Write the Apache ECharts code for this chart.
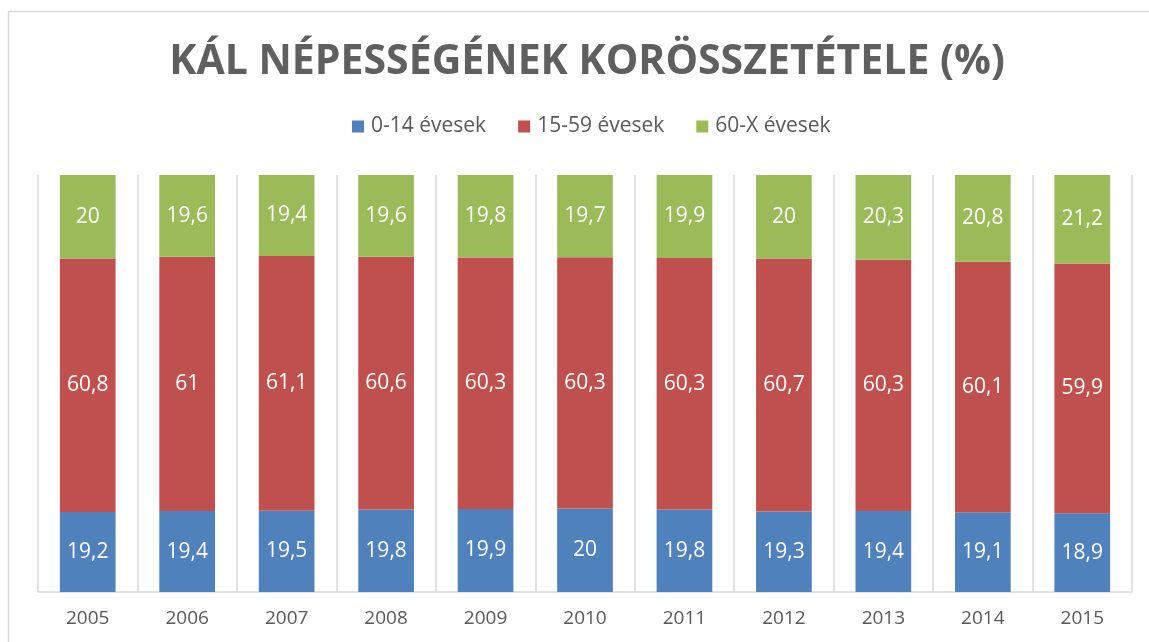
<!DOCTYPE html>
<html lang="hu">
<head>
<meta charset="UTF-8">
<title>Kál népességének korösszetétele</title>
<script src="https://cdn.jsdelivr.net/npm/echarts@6/dist/echarts.min.js"></script>
<style>
  html, body { margin: 0; padding: 0; background: #fff; }
  #chart { width: 1149px; height: 642px; }
</style>
</head>
<body>
<div id="chart"></div>
<script>
// évek és korcsoportok (%)
const years = ['2005', '2006', '2007', '2008', '2009', '2010', '2011', '2012', '2013', '2014', '2015'];
const young = [19.2, 19.4, 19.5, 19.8, 19.9, 20, 19.8, 19.3, 19.4, 19.1, 18.9];
const middle = [60.8, 61, 61.1, 60.6, 60.3, 60.3, 60.3, 60.7, 60.3, 60.1, 59.9];
const old = [20, 19.6, 19.4, 19.6, 19.8, 19.7, 19.9, 20, 20.3, 20.8, 21.2];
const seriesNames = ['0-14 évesek', '15-59 évesek', '60-X évesek'];
const colors = ['#4F81BD', '#C0504D', '#9BBB59'];

const fontFam = '"Open Sans", "Noto Sans", sans-serif';

function makeSeries(name, data, color) {
    return {
        name: name,
        type: 'bar',
        stack: 'total',
        barWidth: '56%',
        data: data,
        itemStyle: { color: color },
        label: {
            show: true,
            position: 'inside',
            color: '#fff',
            fontSize: 21,
            fontFamily: fontFam,
            formatter: p => String(p.value).replace('.', ',')
        }
    };
}

const chart = echarts.init(document.getElementById('chart'));
chart.setOption({
    animation: false,
    color: colors,
    title: {
        text: 'KÁL NÉPESSÉGÉNEK KORÖSSZETÉTELE (%)',
        left: 582,
        textAlign: 'center',
        top: 37,
        textStyle: {
            fontFamily: fontFam,
            fontWeight: 'bold',
            fontSize: 41,
            color: '#5f5f5f'
        }
    },
    legend: {
        top: 111,
        left: 347,
        itemWidth: 12,
        itemHeight: 12,
        itemGap: 32,
        icon: 'rect',
        textStyle: { fontFamily: fontFam, fontSize: 21, color: '#595959', padding: [0, 0, 0, 2] },
        data: seriesNames
    },
    grid: { left: 38, right: 17, top: 175, bottom: 50 },
    xAxis: {
        type: 'category',
        data: years,
        axisLine: { lineStyle: { color: '#d9d9d9', width: 1.5 } },
        axisTick: { show: false },
        splitLine: { show: true, lineStyle: { color: '#d9d9d9', width: 1.5 } },
        axisLabel: {
            margin: 17,
            fontFamily: fontFam,
            fontSize: 19,
            color: '#595959'
        }
    },
    yAxis: {
        type: 'value',
        min: 0,
        max: 100,
        show: false,
        splitLine: { show: false }
    },
    graphic: [{
        type: 'rect',
        left: 6,
        top: 9,
        shape: { width: 1200, height: 700 },
        style: { fill: 'none', stroke: '#d9d9d9', lineWidth: 1.5 },
        silent: true
    }],
    series: [
        makeSeries(seriesNames[0], young, colors[0]),
        makeSeries(seriesNames[1], middle, colors[1]),
        makeSeries(seriesNames[2], old, colors[2])
    ]
});
</script>
</body>
</html>
